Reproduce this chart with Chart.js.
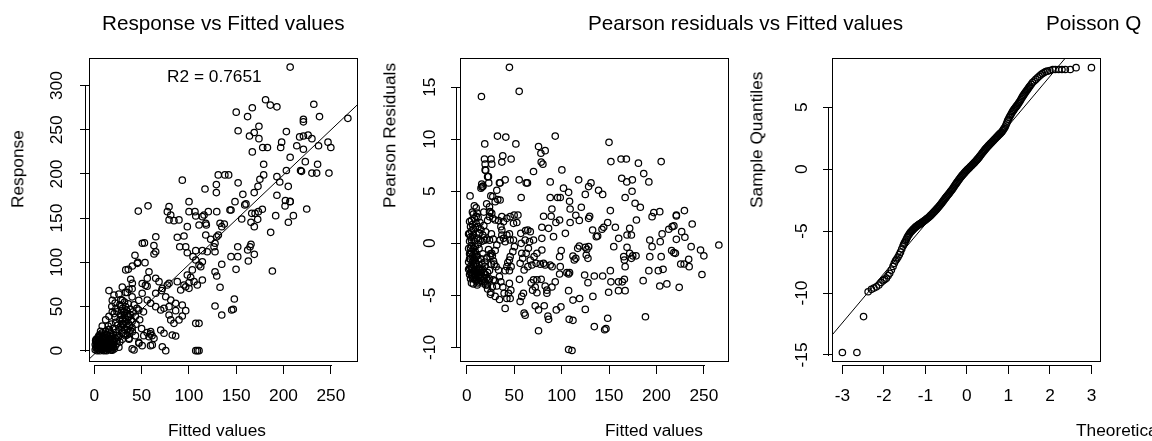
<!DOCTYPE html>
<html>
<head>
<meta charset="utf-8">
<script src="https://cdn.jsdelivr.net/npm/chart.js@4.4.0/dist/chart.umd.min.js"></script>
<style>
  html, body { margin: 0; padding: 0; background: #fff; overflow: hidden; }
  #wrap { position: relative; width: 1152px; height: 441px; overflow: hidden; background: #fff; }
  canvas { position: absolute; top: 0; }
  .t { position: absolute; white-space: nowrap; font-family: 'Liberation Sans', Arial, sans-serif; color: #000; line-height: 1; }
  .lab { font-size: 17.3px; transform: translateY(-50%); }
  .main { font-size: 20.7px; transform: translateY(-50%); }
  .ylab { font-size: 17.3px; transform-origin: 0 0; transform: rotate(-90deg) translateY(-50%); }
</style>
</head>
<body>
<div id="wrap">
  <canvas id="c1" width="384" height="441" style="left:0px"></canvas>
  <canvas id="c2" width="384" height="441" style="left:371px"></canvas>
  <canvas id="c3" width="384" height="441" style="left:743px"></canvas>

  <div class="t main" style="left:102px;top:23px">Response vs Fitted values</div>
  <div class="t main" style="left:588px;top:23px">Pearson residuals vs Fitted values</div>
  <!-- the third title runs off the right edge, only this part shows -->
  <div class="t main" style="left:1046px;top:23px">Poisson Q</div>

  <div class="t lab" style="left:167px;top:77px">R2 = 0.7651</div>

  <div class="t lab" style="left:168px;top:431px">Fitted values</div>
  <div class="t lab" style="left:605px;top:431px">Fitted values</div>
  <div class="t lab" style="left:1076px;top:431px">Theoretical Quantiles</div>

  <div class="t ylab" style="left:18px;top:208px">Response</div>
  <div class="t ylab" style="left:390px;top:208px">Pearson Residuals</div>
  <div class="t ylab" style="left:757px;top:208px">Sample Quantiles</div>
</div>

<script>
// ---- data ----

// panel 1: response vs fitted values  [fitted, response]
const respPts = [
    [207,321],[181,284],[186,278],[193,276],[167,275],[150,270],[162,265],[232,279],[238,265],[221,262],
    [221,259],[268,263],[152,249],[164,243],[169,247],[174,254],[174,240],[167,225],[178,230],[183,230],
    [203,248],[198,236],[197,230],[214,232],[217,242],[221,243],[226,244],[230,240],[221,228],[237,232],
    [247,236],[250,230],[207,219],[223,214],[230,201],[235,201],[218,204],[219,203],[248,201],[236,211],
    [203,204],[193,197],[196,191],[205,186],[193,176],[202,170],[207,169],[179,211],[179,199],[175,194],
    [173,186],[169,179],[159,165],[152,190],[157,177],[131,199],[138,199],[142,199],[129,188],[129,179],
    [93,193],[117,183],
    [148.7,168.7],[160.3,166.1],[143.4,159.3],[144.5,159.3],[129.4,157.4],[155.8,149.1],[166.4,155.5],
    [169.9,155.5],[173.4,157.4],[177.6,160.1],[165.6,145.4],[169.1,140.4],[172.7,148.7],[191.7,152.8],
    [210.4,152.8],[205.1,145.4],[201.6,163.8],[206.9,168.7],[224.5,160.4],[186.4,134],[132.9,144.2],
    [137.4,143.4],[134.7,140.4],[131.1,131],[129.4,129],[151.6,117.7],[165.6,120.4],[164.6,117.7],
    [162.1,114],[169.1,109.1],[162.8,101.5],[144.5,106.4],[151.6,106.4],[127.6,112],[134.7,97.8],
    [149.8,92.1],[188.2,90.2],[127.6,89.4],[129.4,84.6],[132.9,71.8],[148,58.5],[127.6,50.6],
    [145.2,46.1],[146.9,46.9],[134.7,40.4],
    [46.5,158],[56.8,164],[79,163],[77.2,157.4],[79,148],[80.8,153.6],[84.2,147.2],[89.5,148],
    [100.1,168.7],[100.1,157.4],[106.4,157.4],[107.2,152.5],[110.7,142.3],[117.8,144.2],[120.5,157.4],
    [114.2,151.7],[116,153.6],[118.4,142.3],[98.3,140.4],[94.8,129.8],[87.7,128.4],[90.3,117.7],
    [96.6,117.7],[98.3,110.9],[107.2,113.2],[104.3,106.4],[117.8,131],[123,126.1],[126.5,117.7],
    [127.6,121.6],[114.2,113.2],[119.4,112],[114.2,100.7],[112.5,95.1],[107.2,102.7],[110.7,97],
    [103.6,91.4],[98.3,85.7],[101.9,83.1],[108.9,74.4],[105.4,78.1],[114.2,80],[100.1,77],[96.6,72.4],
    [79,76.3],[87.7,78.1],[91.3,68.7],[94.8,74.4],[100.1,70.6],[64.9,82],[68.4,78.1],[71.9,70.6],
    [77.2,74.4],[63.1,109.5],[64.9,112],[53.6,99.6],[57.8,89.4],[56,82],[50.7,121.6],[45.5,98.9],
    [40.2,95.9],[35.9,92.1],[33.2,91.4],[38.5,80.8],[40.2,76.3],[64.9,65],[71.2,68],[75.5,61.1],
    [80.8,57.4],[86,53.7],[79,49.8],[86,45.3],[93,51.7],[96.6,45.3],[56,57.4],[59.6,53.7],[64.9,49.8],
    [70.2,46.1],[73.7,48],[79,40.4],[80.8,34.8],[84.2,31],[89.5,34.8],[93,39.3],[107.2,31],[110.7,31],
    [59.6,21.5],[57.8,15.9],[63.1,14],[70.2,23.4],[73.7,19.7],[82.4,17.8],[86,16.6],[71.9,4.5],
    [61.3,6.5],[42,0.8],[47.2,8.4],[36.7,14],[40.2,21.5],[107.2,0],[109,0],[110.7,0],[75.5,0],
    [43,108],[46,100],[53,122],[63,119],[65,129],[54,74],
    [15.5,68],[20.8,63],[26,64],[33,66],[36.7,69.5],[19,57],[18.5,50],[19,44],[22,54],[29.6,57],
    [28,50],[31.5,44],[40,61],[47,57],[50.6,65],[47,46],[43.5,39],[40,33],[35.8,39],[29.6,35],
    [28,28],[22.6,32],[15.5,39],[12,35],[14.7,28],[8.4,28],[6.6,22],[12,22],[4.9,17],[1.4,11.5],
    [4.9,9.5],[8.4,13],[3,5.7],[6.6,2],[10,5.7],[13.6,7.6],[17,5.7],[12,0.5],[19,0.5],[15.5,13],
    [22.6,20.5],[26,17],[29.6,13],[33,17],[36.7,22],[40,26],[36.7,13],[43.5,17],[47,9.5],[50.6,5.7],
    [52.3,17],[55.8,20.5],[59.4,19],[61,17],[59.4,5.7],[40,2],[29.6,72],[34.8,66],[40,70],[50.6,76],
    [55.8,73],
    [30,48],[31,44],[32,40],[30,36],[33,33],[31,30],[34,27],[32,24],[30,21],[35,42],[36,38],[34,46],
    [3,0],[5,2],[7,4],[9,1],[11,3],[13,6],[5,8],[8,10],[10,12],[4,12],[6,5],[14,2],[16,8],[12,14],
    [2,6],[18,4],[20,10],[15,12],[9,7],[7,14],[3,3],[6,11],[11,9],[13,0],[17,1],[19,6],[21,2],[22,14],
    [24,8],[26,4],[2,10],[4,15],[10,17],[14,18],[8,20],[12,22],[16,24],[18,16],[6,18],
    // the solid blob near the origin
    [1,1],[2,3],[4,1],[6,0],[8,2],[10,0],[12,3],[14,5],[16,3],[18,1],[20,4],[3,8],[5,11],[7,9],[9,12],
    [11,13],[13,10],[15,9],[17,11],[19,13],[2,13],[4,4],[6,7],[8,6],[10,8],[12,7],[14,11],[16,14],
    [18,9],[20,7],[22,5],[24,12],[1,7],[3,13],[5,15],[7,16],[9,15],[11,5],[13,3],[15,2],[17,14],
    [19,16],[21,11],[23,17],[25,15],[27,10],[9,4],[7,2],
    // dense strip round fitted = 30
    [27,52],[29,45],[33,50],[36,53],[38,47],[28,40],[30,31],[33,36],[36,31],[38,41],[27,35],[29,26],
    [35,24],[37,29],[39,35],[41,44],[26,24],[31,19],[35,18],[38,23],[28,58],[32,55],[24,44],[22,38],
    [25,29],[20,25],[18,30],[23,48],[21,42],[17,20],[15,24],[13,18],[44,30],[45,48],[42,52],[48,35],
    [50,25],[52,44]
];
// straight reference line drawn through panel 1
const respLineX = [-5.6, 278.7];
const respLineY = [-9.6, 279];

// panel 2: pearson residuals vs fitted values  [fitted, residual]
const pearPts = [
    [45,16.9],[15.5,14.1],[55.3,14.6],[32.4,10.3],[41.2,10.2],[93.3,10.3],[19,9.55],[51.8,9.55],[75.7,9.3],
    [78.2,8.65],[82.7,8.9],[150,9.7],[18.7,8.1],[19.4,7.6],[25.7,8.1],[26.4,7.6],[38,8.4],[37,7.8],
    [46.8,8.1],[78.5,7.8],[80.3,7.6],[70.4,6.9],[100.3,7.05],[152,7.85],[162.7,8.1],[168.3,8.1],[181,7.7],
    [205,7.85],[186.6,6.7],[192,5.9],[163.4,6.25],[168.7,5.9],[174.6,6.1],[19.4,7.05],[22.9,6.4],
    [15.8,5.7],[16.9,5.45],[23.2,5.8],[35.2,5.8],[40.5,6.1],[55.3,6.1],[62.7,5.8],[64,5.8],[88,5.9],
    [118,6.1],[131,5.8],[139,5.1],[143.3,4.7],[128.5,5.45],[102,5.3],[107.4,4.9],[108.4,4.04],[109,3.3],
    [125,4.7],[3.5,4.55],[25.4,4.55],[32.7,4.2],[57.4,4.4],[88,4.4],[95.8,4.4],[98.6,4.4],[167,4.4],
    [174.3,5.0],[177.5,3.85],[183,3.46],[151.4,3.14],[120.8,3.46],[115,2.7],[118.7,2.2],[129.6,2.6],
    [128.5,2.4],[81,2.6],[89.8,3.3],[89,2.6],[94,2.0],[97.9,2.24],[79.2,1.54],[86.3,1.44],[109,2.0],
    [104,0.96],[148.6,2.0],[156.7,1.54],[132.7,1.28],[142.6,1.35],[144.4,1.54],[136.6,0.64],[138,0.7],
    [91.5,0.64],[79.2,0.48],[171.8,1.44],[178.9,2.24],[173.6,0.8],[169,0.8],[160.2,0.48],[195.4,2.56],
    [197.2,2.95],[203.5,3.04],[213,1.35],[216.6,1.6],[218.4,1.67],[221,2.63],[221,2.72],[229.5,3.14],
    [237.7,1.86],[206,0.9],[226.6,1.12],[230,0.58],[221,0.38],[193,0.32],[195.4,-0.32],[204,0.16],
    [265.8,-0.16],[236.6,-0.32],[246.5,-0.64],[250,-1.2],[248,-3.0],[205,-1.28],[216,-0.7],[218.4,-0.9],
    [220,-0.96],[193,-1.28],[234,-1.54],[225.6,-1.99],[229.2,-1.99],[234.5,-2.24],[202,-2.63],[207,-2.5],
    [192,-2.63],[186,-3.59],[203.5,-4.1],[211,-3.9],[224,-4.23],[188.4,-7.05],[169,-0.38],[171.8,-0.96],
    [173.6,-1.44],[178.5,-1.2],[175,-1.2],[155,-0.32],[165.5,-1.28],[166.2,-1.6],[167,-2.24],
    [151.4,-2.63],[152,-3.7],[160,-3.7],[164,-3.7],[166.2,-3.46],[160,-4.55],[167,-4.55],[149.6,-4.7],
    [148.6,-7.2],[146.8,-8.2],[145.4,-8.3],[134.5,-8.0],[133,-5.1],[125,-6.35],[134.5,-3.14],
    [143.3,-3.14],[127.8,-3.78],[124.3,-3.04],[125,-0.38],[126.7,-0.58],[128.5,-0.32],[126,-1.12],
    [127.8,-1.44],[117,-0.48],[118.7,-0.26],[112,-1.22],[113.4,-1.6],[115,-1.44],[99.6,-0.7],[97.9,-1.28],
    [98.6,-2.24],[97.9,-2.95],[105.6,-2.82],[107.4,-2.95],[108.4,-2.82],[107.4,-4.55],[112,-5.45],
    [119,-5.3],[108,-7.3],[112,-7.4],[99.3,-6.1],[94.4,-6.4],[107.4,-10.2],[111,-10.3],[86.3,-7.3],
    [85.6,-7.0],[75.7,-8.4],[72.2,-6.0],[81.7,-6.0],[75.7,-6.4],[84.5,-4.5],[84.5,-4.8],[89.8,-4.2],
    [93.3,-3.7],[82.7,-4.1],[74,-4.75],[72.2,-4.2],[69.4,-4.5],[68,-3.8],[70.4,-3.5],[74,-3.5],
    [78.5,-3.46],[61.6,-6.9],[60.5,-6.7],[56.3,-5.6],[58,-5.1],[59.8,-4.8],[55.6,-3.46],[60.5,-2.56],
    [64.4,-2.24],[68.7,-2.08],[73.2,-1.92],[77.5,-2.0],[81,-1.92],[82.7,-2.08],[88,-2.08],[90,-2.24],
    [67,-1.6],[71,-1.28],[74,-0.96],[79.2,-0.64],[62.7,-0.96],[65,-0.48],[59,-1.44],[56.3,-1.92],
    [58,-0.96],[57.4,0],[61.6,0.32],[66.2,0.16],[70.4,0.32],[62,1.22],[64.4,1.28],[67,1.12],[57,0.96],
    [52.8,2.0],[49.3,1.92],[54,2.72],[49.3,0.32],[50.3,-0.32],[48.6,-0.8],[45.8,-1.28],[45,-1.6],
    [43.3,-1.86],[42.3,-2.24],[40.5,-2.63],[46.8,-2.24],[45,-2.63],[45,-3.85],[46.5,-4.5],[44,-4.8],
    [45.8,-5.3],[42.3,-5.3],[39.4,-4.8],[38,-4.2],[36,-3.7],[34.5,-3.2],[40.5,-6.25],[30,-5.1],
    [34.5,-5.4],[25.4,-4.7],[21.8,-4.0],[19.4,-3.7],[24,-3.4],[31.7,-4.1],[30,-3.6],[33.5,-2.56],
    [31,-2.24],[28.2,-1.7],[24.6,-1.28],[26.4,-0.96],[30,-0.7],[31.7,-0.16],[35.2,0.32],[37,0.8],
    [38.7,0.48],[40.5,0.16],[42.3,0.8],[45,0.9],[45.8,0.32],[37,1.28],[36,1.6],[38.7,2.08],[33.5,2.18],
    [30,2.24],[27.5,2.4],[24,2.56],[26.4,2.88],[24.6,3.04],[24,3.5],[30,4.0],[35.2,4.16],[37,2.56],
    [42.3,2.4],[45.8,2.56],[50,2.72],[27.5,4.5],[31.7,5.1],[34.5,5.8],
    [5,2.2],[7,2.8],[10,3.4],[12,2.5],[14,2.0],[9,1.5],[6,0.6],[8,0.2],[11,0.5],[13,1.0],[15,1.3],
    [17,0.8],[19,0.3],[21,0.4],[5,-0.2],[7,-0.5],[9,-0.8],[11,-1.2],[13,-0.5],[15,-1.5],[17,-1.0],
    [19,-1.8],[21,-1.4],[23,-0.6],[25,-1.0],[4,-1.5],[6,-1.8],[8,-2.2],[10,-2.5],[12,-2.8],[14,-3.0],
    [16,-3.2],[18,-3.4],[20,-3.0],[22,-2.8],[24,-2.6],[26,-2.0],[5,-2.4],[7,-2.7],[9,-3.1],[11,-3.5],
    [13,-3.7],[15,-3.6],[17,-2.5],[19,-2.2],[4,-2.2],[6,-2.9],[8,-3.3],[10,-3.6],[12,-3.3],[14,-2.4],
    [16,-2.0],[20,-4.0],[22,-4.4],[25,-4.9],[27,-4.2],[7,0.8],[5,1.2],[10,1.9],[12,-0.1],[14,0.3],
    [16,0.2],[18,1.7],[20,1.1],[22,2.2],[24,0.3],[26,0.9],[28,0.4],[27,-1.2],[29,-2.0],[28,-3.5],
    [17,5.5],[16,5.4],[15,5.3],[21,3.8],[24,3.0],[18,3.0],[22,6.4],[20,7.0],[13,0.9],[11,2.9],[9,-0.3],
    [3,2.1],[3,0.2],[3,-1.0],[3,-2.4],[4,0.6],[4,-0.5],[6,3.0],[8,3.6],[10,2.6],[12,1.6],
    // the solid blob at small fitted values
    [2,-2.5],[3,-3.0],[4,-3.4],[5,-3.8],[6,-3.3],[7,-3.9],[8,-2.7],[9,-2.0],[10,-3.0],[11,-2.2],
    [12,-1.6],[13,-2.6],[14,-3.4],[15,-2.8],[2,-1.8],[3,-1.5],[4,-2.8],[5,-3.1],[6,-2.4],[7,-2.1],
    [8,-1.5],[9,-2.6],[10,-1.9],[11,-2.9],[12,-3.8],[13,-3.1],[6,-1.2],[7,-1.6],[8,-1.0],[5,-0.8],
    [4,-1.0],[10,-1.3],[9,-3.5],[11,-4.0],[16,-2.6],[18,-2.8],[17,-3.8],[19,-3.0],[21,-3.3],[23,-3.6],
    [2,-0.5],[3,0.9],[5,0.3],[7,1.4],[4,1.6],[6,1.8],[8,2.4],[2,0.9]
];

// panel 3: normal QQ plot of the residuals  [theoretical, sample]
const qqPts = [
    [-3.0,-14.8],[-2.65,-14.8],[-2.49,-11.9],[-2.38,-9.9],[-2.30,-9.7],[-2.24,-9.6],[-2.18,-9.5],
    [-2.12,-9.35],[-2.07,-9.15],[-2.02,-9.0],[-1.98,-8.9],[-1.94,-8.8],[-1.90,-8.6],[-1.86,-8.4],
    [-1.82,-8.15],[-1.78,-7.85],[-1.75,-7.6],[-1.72,-7.4],[-1.69,-7.25],[-1.66,-7.1],[-1.63,-6.9],
    [-1.60,-6.7],[-1.57,-6.45],[-1.54,-6.2],[-1.52,-6.05],
    [-1.50,-5.93],[-1.48,-5.8],[-1.46,-5.67],[-1.44,-5.53],[-1.42,-5.4],[-1.40,-5.3],[-1.38,-5.2],
    [-1.36,-5.1],[-1.34,-5.03],[-1.32,-4.95],[-1.30,-4.88],[-1.28,-4.81],[-1.26,-4.75],[-1.24,-4.68],
    [-1.22,-4.63],[-1.20,-4.58],[-1.18,-4.53],[-1.16,-4.48],[-1.14,-4.44],[-1.12,-4.39],[-1.10,-4.35],
    [-1.08,-4.3],[-1.06,-4.25],[-1.04,-4.2],[-1.02,-4.15],[-1.00,-4.1],[-0.98,-4.05],[-0.96,-3.99],
    [-0.94,-3.94],[-0.92,-3.88],[-0.90,-3.82],[-0.88,-3.75],[-0.86,-3.69],[-0.84,-3.62],[-0.82,-3.55],
    [-0.80,-3.48],[-0.78,-3.41],[-0.76,-3.34],[-0.74,-3.27],[-0.72,-3.19],[-0.70,-3.12],[-0.68,-3.04],
    [-0.66,-2.96],[-0.64,-2.87],[-0.62,-2.79],[-0.60,-2.7],[-0.58,-2.61],[-0.56,-2.52],[-0.54,-2.43],
    [-0.52,-2.34],[-0.50,-2.26],[-0.48,-2.17],[-0.46,-2.09],[-0.44,-2.0],[-0.42,-1.92],[-0.40,-1.83],
    [-0.38,-1.75],[-0.36,-1.66],[-0.34,-1.56],[-0.32,-1.46],[-0.30,-1.36],[-0.28,-1.26],[-0.26,-1.17],
    [-0.24,-1.07],[-0.22,-0.98],[-0.20,-0.88],[-0.18,-0.79],[-0.16,-0.7],[-0.14,-0.61],[-0.12,-0.52],
    [-0.10,-0.45],[-0.08,-0.37],[-0.06,-0.3],[-0.04,-0.22],[-0.02,-0.15],[0.00,-0.08],[0.02,-0.01],
    [0.04,0.06],[0.06,0.12],[0.08,0.19],[0.10,0.25],[0.12,0.32],[0.14,0.39],[0.16,0.46],[0.18,0.53],
    [0.20,0.6],[0.22,0.68],[0.24,0.75],[0.26,0.83],[0.28,0.9],[0.30,0.99],[0.32,1.08],[0.34,1.17],
    [0.36,1.26],[0.38,1.35],[0.40,1.43],[0.42,1.52],[0.44,1.6],[0.46,1.68],[0.48,1.75],[0.50,1.83],
    [0.52,1.9],[0.54,1.97],[0.56,2.04],[0.58,2.11],[0.60,2.18],[0.62,2.25],[0.64,2.32],[0.66,2.39],
    [0.68,2.46],[0.70,2.53],[0.72,2.6],[0.74,2.67],[0.76,2.74],[0.78,2.81],[0.80,2.87],[0.82,2.94],
    [0.84,3.0],[0.86,3.1],[0.88,3.2],[0.90,3.3],[0.92,3.4],[0.94,3.57],[0.96,3.73],[0.98,3.9],
    [1.00,4.03],[1.02,4.17],[1.04,4.3],[1.06,4.42],[1.08,4.54],[1.10,4.66],[1.12,4.75],[1.14,4.85],
    [1.16,4.94],[1.18,5.03],[1.20,5.11],[1.22,5.2],[1.24,5.3],[1.26,5.4],[1.28,5.5],[1.30,5.62],
    [1.32,5.74],[1.34,5.86],[1.36,5.96],[1.38,6.06],[1.40,6.16],[1.42,6.25],[1.44,6.35],[1.46,6.44],
    [1.48,6.53],[1.50,6.63],
    [1.52,6.72],[1.55,6.86],[1.58,7.0],[1.62,7.12],[1.66,7.25],[1.70,7.38],[1.74,7.5],[1.78,7.62],
    [1.82,7.72],[1.86,7.8],[1.90,7.88],[1.94,7.92],[2.0,7.97],[2.07,8.05],[2.13,8.05],[2.21,8.05],
    [2.29,8.05],[2.37,8.05],[2.49,8.05],[2.63,8.2],[3.0,8.2]
];
// qq reference line
const qqLineX = [-3.25, 2.37];
const qqLineY = [-13.4, 8.97];

// tick values per axis
const respXTicks = [0, 50, 100, 150, 200, 250];
const respYTicks = [0, 50, 100, 150, 200, 250, 300];
const pearXTicks = [0, 50, 100, 150, 200, 250];
const pearYTicks = [-10, -5, 0, 5, 10, 15];
const qqXTicks = [-3, -2, -1, 0, 1, 2, 3];
const qqYTicks = [-15, -10, -5, 0, 5];

const FONT = "'Liberation Sans', Arial, sans-serif";

// box round the plot region + the R style axis line between first and last tick
const rBox = {
    id: 'rBox',
    afterDraw(chart) {
        const { ctx, chartArea: a, scales } = chart;
        const xt = scales.x.ticks, yt = scales.y.ticks;
        ctx.save();
        ctx.strokeStyle = '#000';
        ctx.lineWidth = 1;
        ctx.strokeRect(a.left + 0.5, a.top + 0.5, a.right - a.left - 1, a.bottom - a.top - 1);
        ctx.beginPath();
        ctx.moveTo(Math.round(scales.x.getPixelForValue(xt[0].value)), a.bottom + 3.5);
        ctx.lineTo(Math.round(scales.x.getPixelForValue(xt[xt.length - 1].value)) + 1, a.bottom + 3.5);
        ctx.moveTo(a.left - 3.5, Math.round(scales.y.getPixelForValue(yt[0].value)) + 1);
        ctx.lineTo(a.left - 3.5, Math.round(scales.y.getPixelForValue(yt[yt.length - 1].value)));
        ctx.stroke();
        ctx.restore();
    }
};

function axis(min, max, tickValues, isY) {
    const tickFont = { family: FONT, size: 17.3 };
    return {
        type: 'linear',
        min: min,
        max: max,
        afterBuildTicks: s => { s.ticks = tickValues.map(v => ({ value: v })); },
        afterFit: s => { if (isY) s.width = 89; else s.height = 79; },
        border: { display: false },
        grid: {
            drawOnChartArea: false,
            drawTicks: true,
            tickLength: 12,
            tickWidth: 1,
            tickColor: '#000',
            // leave a small gap between the box and the tick, like R's axis()
            tickBorderDash: [9, 3],
            tickBorderDashOffset: 9
        },
        // chart.js turns the rotation round, 90 here gives bottom-to-top text
        ticks: isY
            ? { minRotation: 90, maxRotation: 90, crossAlign: 'center', padding: 5, color: '#000', font: tickFont, autoSkip: false, callback: v => String(v) }
            : { minRotation: 0, maxRotation: 0, padding: 12, color: '#000', font: tickFont, autoSkip: false, callback: v => String(v) }
    };
}

function pointSet(pts) {
    return {
        type: 'scatter',
        data: pts.map(p => ({ x: p[0], y: p[1] })),
        pointStyle: 'circle',
        pointRadius: 3.2,
        borderWidth: 1.25,
        borderColor: '#000',
        backgroundColor: 'rgba(0,0,0,0)'
    };
}

function lineSet(xs, ys) {
    return {
        type: 'line',
        data: xs.map((v, i) => ({ x: v, y: ys[i] })),
        borderColor: '#000',
        borderWidth: 1,
        pointRadius: 0,
        fill: false
    };
}

function makePanel(id, datasets, xScale, yScale) {
    const ctx = document.getElementById(id).getContext('2d');
    return new Chart(ctx, {
        type: 'scatter',
        data: { datasets: datasets },
        options: {
            responsive: false,
            animation: false,
            devicePixelRatio: 1,
            events: [],
            layout: { padding: { top: 58, right: 26, left: 0, bottom: 0 } },
            plugins: { legend: { display: false }, tooltip: { enabled: false }, title: { display: false } },
            scales: { x: xScale, y: yScale }
        },
        plugins: [rBox]
    });
}

makePanel('c1',
    [pointSet(respPts), lineSet(respLineX, respLineY)],
    axis(-5.6, 278.7, respXTicks, false),
    axis(-12.8, 331.3, respYTicks, true));

makePanel('c2',
    [pointSet(pearPts)],
    axis(-7.1, 276.5, pearXTicks, false),
    axis(-11.4, 17.8, pearYTicks, true));

makePanel('c3',
    [pointSet(qqPts), lineSet(qqLineX, qqLineY)],
    axis(-3.25, 3.23, qqXTicks, false),
    axis(-15.57, 8.98, qqYTicks, true));
</script>
</body>
</html>
